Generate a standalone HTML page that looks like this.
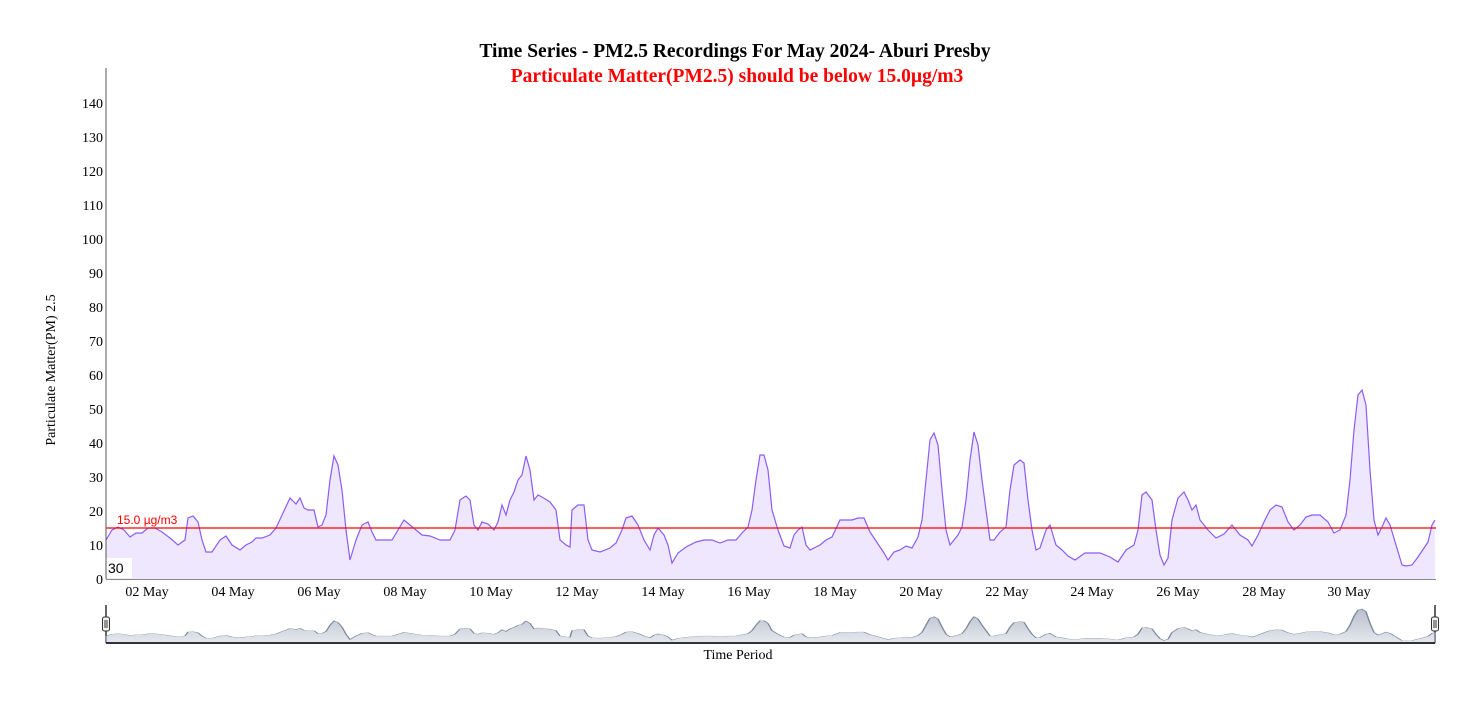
<!DOCTYPE html>
<html><head><meta charset="utf-8"><style>
body{margin:0;background:#fff;}
svg{display:block;font-family:"Liberation Serif",serif;}
</style></head><body>
<svg width="1480" height="702" viewBox="0 0 1480 702">
<defs>
<linearGradient id="ng" x1="0" y1="0" x2="0" y2="1"><stop offset="0" stop-color="#b8bfcc"/><stop offset="1" stop-color="#e6e8ee"/></linearGradient>
<path id="d" d="M106,540 L112,530 118,527 124,530 130,537 136,533 142,533 148,528 155,528 162,532 170,538 178,545 185,540 188,518 193,516 198,522 202,540 206,552 212,552 220,540 226,536 232,545 240,550 246,545 252,542 256,538 262,538 270,535 276,528 283,513 290,498 296,504 300,498 304,508 308,510 314,510 318,527 322,525 326,515 330,480 334,456 338,465 342,490 346,530 350,560 356,540 362,525 368,522 372,532 376,540 384,540 392,540 398,530 404,520 410,525 416,530 422,535 430,536 440,540 450,540 455,530 460,500 466,496 470,500 474,525 478,530 482,522 488,524 494,530 498,522 502,505 506,515 510,500 514,492 518,480 522,475 526,456 530,470 534,500 538,495 542,497 550,502 556,510 560,540 566,545 570,547 572,510 578,505 584,505 588,540 592,550 600,552 610,548 616,543 622,530 626,518 632,516 638,525 644,540 650,550 654,535 658,528 664,535 668,545 672,563 678,553 686,547 696,542 704,540 712,540 720,543 728,540 736,540 742,533 748,527 752,510 756,480 760,455 764,455 768,470 772,510 778,530 784,546 790,548 794,535 798,530 802,527 806,545 810,550 820,545 826,540 832,537 840,520 846,520 852,520 858,518 864,518 870,532 878,544 884,553 888,560 894,552 900,550 906,546 912,548 918,537 922,520 926,480 930,440 934,433 938,445 942,490 946,530 950,545 954,540 958,535 962,527 966,500 970,460 974,432 978,445 982,480 986,510 990,540 994,540 1000,532 1006,527 1010,490 1014,465 1020,460 1024,463 1028,500 1032,530 1036,550 1040,548 1046,530 1050,525 1056,545 1062,550 1068,556 1075,560 1085,553 1100,553 1110,557 1118,562 1126,550 1134,545 1138,530 1142,495 1146,492 1152,500 1156,530 1160,555 1164,565 1168,558 1172,520 1178,498 1184,492 1188,500 1192,510 1196,505 1200,520 1208,530 1216,538 1224,534 1232,525 1240,535 1248,540 1252,546 1258,535 1264,522 1270,510 1276,505 1282,507 1288,522 1294,530 1300,525 1306,517 1312,515 1320,515 1328,522 1334,533 1340,530 1346,515 1350,480 1354,430 1358,395 1362,390 1366,405 1370,470 1374,520 1378,535 1382,527 1386,518 1390,525 1396,545 1402,565 1406,566 1412,565 1418,557 1424,548 1428,542 1432,525 1435,520"/>
<path id="f" d="M106,579 L106,540 L112,530 118,527 124,530 130,537 136,533 142,533 148,528 155,528 162,532 170,538 178,545 185,540 188,518 193,516 198,522 202,540 206,552 212,552 220,540 226,536 232,545 240,550 246,545 252,542 256,538 262,538 270,535 276,528 283,513 290,498 296,504 300,498 304,508 308,510 314,510 318,527 322,525 326,515 330,480 334,456 338,465 342,490 346,530 350,560 356,540 362,525 368,522 372,532 376,540 384,540 392,540 398,530 404,520 410,525 416,530 422,535 430,536 440,540 450,540 455,530 460,500 466,496 470,500 474,525 478,530 482,522 488,524 494,530 498,522 502,505 506,515 510,500 514,492 518,480 522,475 526,456 530,470 534,500 538,495 542,497 550,502 556,510 560,540 566,545 570,547 572,510 578,505 584,505 588,540 592,550 600,552 610,548 616,543 622,530 626,518 632,516 638,525 644,540 650,550 654,535 658,528 664,535 668,545 672,563 678,553 686,547 696,542 704,540 712,540 720,543 728,540 736,540 742,533 748,527 752,510 756,480 760,455 764,455 768,470 772,510 778,530 784,546 790,548 794,535 798,530 802,527 806,545 810,550 820,545 826,540 832,537 840,520 846,520 852,520 858,518 864,518 870,532 878,544 884,553 888,560 894,552 900,550 906,546 912,548 918,537 922,520 926,480 930,440 934,433 938,445 942,490 946,530 950,545 954,540 958,535 962,527 966,500 970,460 974,432 978,445 982,480 986,510 990,540 994,540 1000,532 1006,527 1010,490 1014,465 1020,460 1024,463 1028,500 1032,530 1036,550 1040,548 1046,530 1050,525 1056,545 1062,550 1068,556 1075,560 1085,553 1100,553 1110,557 1118,562 1126,550 1134,545 1138,530 1142,495 1146,492 1152,500 1156,530 1160,555 1164,565 1168,558 1172,520 1178,498 1184,492 1188,500 1192,510 1196,505 1200,520 1208,530 1216,538 1224,534 1232,525 1240,535 1248,540 1252,546 1258,535 1264,522 1270,510 1276,505 1282,507 1288,522 1294,530 1300,525 1306,517 1312,515 1320,515 1328,522 1334,533 1340,530 1346,515 1350,480 1354,430 1358,395 1362,390 1366,405 1370,470 1374,520 1378,535 1382,527 1386,518 1390,525 1396,545 1402,565 1406,566 1412,565 1418,557 1424,548 1428,542 1432,525 1435,520 L1435,579 Z"/>
</defs>
<text x="735" y="57" text-anchor="middle" font-size="19.5" font-weight="bold">Time Series - PM2.5 Recordings For May 2024- Aburi Presby</text>
<text x="737" y="82" text-anchor="middle" font-size="19.5" font-weight="bold" fill="#f00">Particulate Matter(PM2.5) should be below 15.0µg/m3</text>
<g font-size="14" text-anchor="end">
<text x="103" y="584">0</text><text x="103" y="550">10</text><text x="103" y="516">20</text><text x="103" y="482">30</text><text x="103" y="448">40</text><text x="103" y="414">50</text><text x="103" y="380">60</text><text x="103" y="346">70</text><text x="103" y="312">80</text><text x="103" y="278">90</text><text x="103" y="244">100</text><text x="103" y="210">110</text><text x="103" y="176">120</text><text x="103" y="142">130</text><text x="103" y="108">140</text>
</g>
<text transform="translate(55,370) rotate(-90)" text-anchor="middle" font-size="14">Particulate Matter(PM) 2.5</text>
<use href="#f" fill="#efe7fd" stroke="none"/>
<use href="#d" fill="none" stroke="#8b5cf6" stroke-width="1.2"/>
<line x1="106" y1="528" x2="1436" y2="528" stroke="#f00" stroke-width="1.2"/>
<text x="117" y="524" font-family="Liberation Sans,sans-serif" font-size="12" fill="#f00">15.0 µg/m3</text>
<rect x="106" y="558" width="26" height="20" fill="#fff"/>
<text x="108" y="573" font-family="Liberation Sans,sans-serif" font-size="14">30</text>
<line x1="106" y1="68" x2="106" y2="579" stroke="#555"/>
<line x1="106" y1="579.5" x2="1436" y2="579.5" stroke="#888"/>
<g font-size="14" text-anchor="middle">
<text x="147" y="596">02 May</text><text x="233" y="596">04 May</text><text x="319" y="596">06 May</text><text x="405" y="596">08 May</text><text x="491" y="596">10 May</text><text x="577" y="596">12 May</text><text x="663" y="596">14 May</text><text x="749" y="596">16 May</text><text x="835" y="596">18 May</text><text x="921" y="596">20 May</text><text x="1007" y="596">22 May</text><text x="1092" y="596">24 May</text><text x="1178" y="596">26 May</text><text x="1264" y="596">28 May</text><text x="1349" y="596">30 May</text>
</g>
<line x1="106" y1="605" x2="106" y2="643" stroke="#333" stroke-width="1.5"/>
<line x1="1435" y1="605" x2="1435" y2="643" stroke="#333" stroke-width="1.5"/>
<g transform="translate(0,643) scale(1,0.18) translate(0,-579)">
<use href="#f" fill="url(#ng)" stroke="#7d879b" stroke-width="1.5" vector-effect="non-scaling-stroke"/>
</g>
<line x1="106" y1="643" x2="1435" y2="643" stroke="#333" stroke-width="2"/>
<rect x="102.5" y="617" width="7" height="14" rx="2" fill="#f4f4f4" stroke="#333"/>
<line x1="105" y1="620" x2="105" y2="628" stroke="#333"/><line x1="107" y1="620" x2="107" y2="628" stroke="#333"/>
<rect x="1431.5" y="617" width="7" height="14" rx="2" fill="#f4f4f4" stroke="#333"/>
<line x1="1434" y1="620" x2="1434" y2="628" stroke="#333"/><line x1="1436" y1="620" x2="1436" y2="628" stroke="#333"/>
<text x="738" y="659" text-anchor="middle" font-size="14">Time Period</text>
</svg>
</body></html>
